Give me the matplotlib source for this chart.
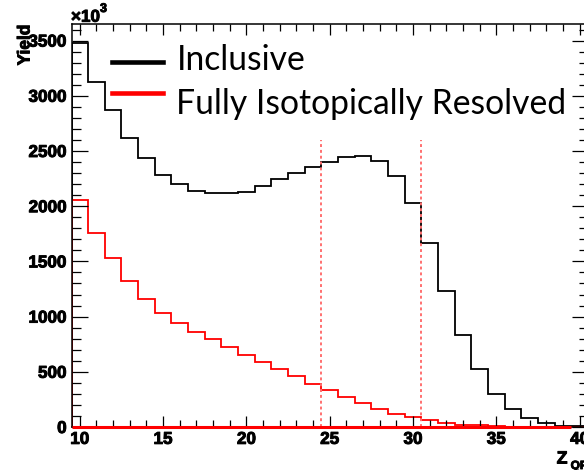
import numpy as np
import matplotlib
matplotlib.use("Agg")
import matplotlib.pyplot as plt
from matplotlib.lines import Line2D
from matplotlib import font_manager as fm
import matplotlib.patheffects as pe

# ---- data (bins centred on integer Z_QP, width 1) ----
z_bins = list(range(10, 41))
inclusive = [3475, 3125, 2871, 2615, 2434, 2283, 2201, 2140, 2117, 2117,
             2131, 2186, 2243, 2298, 2352, 2403, 2449, 2458, 2412, 2274,
             2026, 1664, 1235, 833, 522, 296, 160, 85, 33, 12, 8]
resolved = [2056, 1760, 1534, 1325, 1157, 1035, 939, 860, 794, 725,
            652, 589, 528, 462, 390, 335, 269, 215, 166, 118,
            88, 62, 39, 22, 14, 8, 3, 2, 1, 0, 0]
cut_lines = [24.5, 30.5]
cut_top = 2600
x_ticks = [10, 15, 20, 25, 30, 35, 40]
y_ticks = [0, 500, 1000, 1500, 2000, 2500, 3000, 3500]

# pick a sans family that really has a bold face
bold_family = "DejaVu Sans"
for fam in ["Liberation Sans", "Arimo", "Roboto", "Open Sans", "Noto Sans", "Lato"]:
    try:
        p = fm.findfont(fm.FontProperties(family=fam, weight="bold"), fallback_to_default=False)
        name = p.lower()
        if fam.replace(" ", "").lower() in name.replace(" ", "").replace("-", "").replace("_", "") and "bold" in name:
            bold_family = fam
            break
    except Exception:
        pass

heavy = [pe.withStroke(linewidth=0.7, foreground="black")]

W, H = 584, 470
fig = plt.figure(figsize=(W / 100, H / 100), dpi=100)
L, R, B, T = 71.5, 588, 427, 24
ax = fig.add_axes([L / W, 1 - B / H, (R - L) / W, (B - T) / H])

edges = np.arange(z_bins[0] - 0.5, z_bins[-1] + 1.0, 1.0)
ax.stairs(inclusive, edges, color="black", lw=1.3, baseline=0)
ax.stairs(resolved, edges, color="#ff0000", lw=1.3, baseline=0)
ax.hlines(0, edges[0], edges[-2], color="#ff0000", lw=2.2, zorder=5, clip_on=False)
for xc in cut_lines:
    ax.vlines(xc, 0, cut_top, color="#ff7070", lw=1.4, linestyles=(0, (1.5, 1.5)))

ax.set_xlim(edges[0], edges[-1])
ax.set_ylim(0, 3650)
ax.set_xticks(x_ticks)
ax.set_xticks(np.arange(10, 41, 1), minor=True)
ax.set_yticks(y_ticks)
ax.set_yticks(np.arange(0, 3700, 100), minor=True)

ax.tick_params(which="both", direction="in", top=True, right=True, width=0.9, colors="black")
ax.tick_params(axis="y", which="major", length=11.5, pad=3.5)
ax.tick_params(axis="y", which="minor", length=6.5)
ax.tick_params(axis="x", which="major", length=8, pad=3.5)
ax.tick_params(axis="x", which="minor", length=4.7)
tf = dict(family=bold_family, weight="bold", size=12.3)
ax.set_xticklabels([str(v) for v in x_ticks], **tf)
ax.set_yticklabels([str(v) for v in y_ticks], **tf)
for lab in ax.get_xticklabels() + ax.get_yticklabels():
    lab.set_path_effects(heavy)
for s in ax.spines.values():
    s.set_linewidth(1.1)

# axis titles / multiplier
bt = dict(family=bold_family, weight="bold", path_effects=heavy)
fig.text(25 / W, 1 - 45 / H, "Yield", rotation=90, ha="center", va="center", size=12.5, **bt)
fig.text(71 / W, 1 - 21.7 / H, "×10", ha="left", va="baseline", size=12.3, **bt)
fig.text(100 / W, 1 - 12 / H, "3", ha="left", va="baseline", size=9, **bt)
fig.text(556.7 / W, 1 - 463.5 / H, "Z", ha="left", va="baseline", size=12.7, **bt)
fig.text(570.7 / W, 1 - 469 / H, "QP", ha="left", va="baseline", size=8.5, **bt)

# legend
leg_font = dict(family="Lato", size=24.2)
fig.add_artist(Line2D([112 / W, 163 / W], [1 - 62.3 / H] * 2, color="black", lw=3.3))
fig.add_artist(Line2D([112 / W, 163 / W], [1 - 92.5 / H] * 2, color="#ff0000", lw=3.3))
fig.text(176.5 / W, 1 - 70 / H, "Inclusive", ha="left", va="baseline", **leg_font)
fig.text(176.5 / W, 1 - 113.5 / H, "Fully Isotopically Resolved", ha="left", va="baseline", **leg_font)

fig.savefig("out.png", dpi=100)
